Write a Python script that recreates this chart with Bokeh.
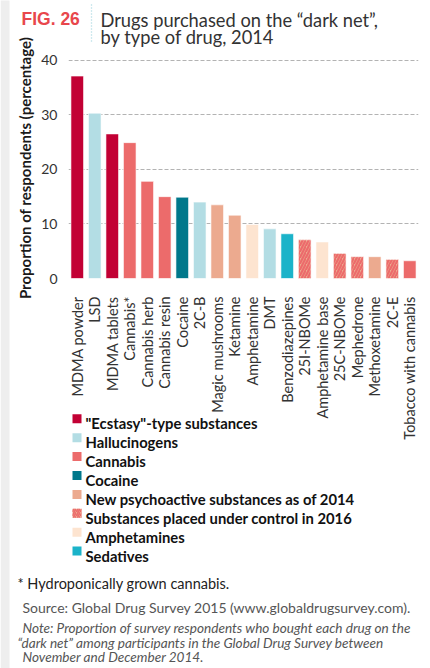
import math
from bokeh.plotting import figure
from bokeh.models import (FactorRange, Range1d, FixedTicker, ColumnDataSource,
                          GridBox)
from bokeh.embed import file_html
from bokeh.resources import INLINE
from bokeh.core.properties import value

# ---------------- data ----------------
drugs = ["MDMA powder", "LSD", "MDMA tablets", "Cannabis*", "Cannabis herb",
         "Cannabis resin", "Cocaine", "2C-B", "Magic mushrooms", "Ketamine",
         "Amphetamine", "DMT", "Benzodiazepines", "25I-NBOMe",
         "Amphetamine base", "25C-NBOMe", "Mephedrone", "Methoxetamine",
         "2C-E", "Tobacco with cannabis"]
percent = [37.1, 30.3, 26.5, 24.9, 17.8, 15.0, 14.9, 14.0, 13.5, 11.6,
           9.9, 9.1, 8.2, 7.1, 6.7, 4.6, 4.0, 4.0, 3.5, 3.25]
drug_type = ["ecstasy", "halluc", "ecstasy", "cannabis", "cannabis",
             "cannabis", "cocaine", "halluc", "nps", "nps",
             "amph", "halluc", "sedatives", "controlled", "amph",
             "controlled", "controlled", "nps", "controlled", "cannabis"]

type_keys = ["ecstasy", "halluc", "cannabis", "cocaine", "nps",
             "controlled", "amph", "sedatives"]
type_labels = ['"Ecstasy"-type substances', "Hallucinogens", "Cannabis",
               "Cocaine", "New psychoactive substances as of 2014",
               "Substances placed under control in 2016", "Amphetamines",
               "Sedatives"]
type_colors = ["#C20034", "#B3DDE4", "#EC6B6B", "#00788B", "#ECAA8F",
               "#ECAA8F", "#FDE4D0", "#1BB3C9"]
type_hatch = [None, None, None, None, None, "/", None, None]

y_ticks = [0, 10, 20, 30, 40]

title_fig = "FIG. 26"
title_lines = ["Drugs purchased on the \u201cdark net\u201d,",
               "by type of drug, 2014"]
y_label = "Proportion of respondents (percentage)"
footnote = "* Hydroponically grown cannabis."
source = "Source: Global Drug Survey 2015 (www.globaldrugsurvey.com)."
note_lines = ["Note: Proportion of survey respondents who bought each drug on the",
              "\u201cdark net\u201d among participants in the Global Drug Survey between",
              "November and December 2014."]

HATCH_COLOR = "#EC6B6B"

# ---------------- main chart ----------------
W, H = 430, 668
FR_L, FR_R, FR_T, FR_B = 68, 418, 57, 278
Y_END = 40.5

p = figure(width=W, height=H, output_backend="svg", toolbar_location=None,
           x_range=FactorRange(factors=drugs), y_range=Range1d(0, Y_END),
           min_border_left=FR_L, min_border_right=W - FR_R, min_border_top=FR_T,
           min_border_bottom=H - FR_B)
p.background_fill_color = "white"
p.border_fill_color = "white"
p.outline_line_color = None

for key, col, hatch in zip(type_keys, type_colors, type_hatch):
    xs = [d for d, t in zip(drugs, drug_type) if t == key]
    ys = [v for v, t in zip(percent, drug_type) if t == key]
    src = ColumnDataSource(dict(drug=xs, pct=ys))
    kw = {}
    if hatch:
        kw = dict(hatch_pattern=hatch, hatch_color=HATCH_COLOR, hatch_scale=6,
                  hatch_weight=2.2)
    p.vbar(x="drug", top="pct", width=0.72, source=src, fill_color=col,
           line_color="white", line_alpha=0.6, line_width=1, **kw)

p.yaxis.ticker = FixedTicker(ticks=y_ticks)
p.axis.axis_line_color = None
p.axis.major_tick_line_color = None
p.axis.minor_tick_line_color = None
p.axis.major_label_text_font = "Lato"
p.axis.major_label_text_color = "#333333"
p.yaxis.major_label_text_font_size = "14px"
p.xaxis.major_label_text_font_size = "14.5px"
p.yaxis.major_label_standoff = 5
p.xaxis.major_label_standoff = 12
p.xaxis.major_label_orientation = math.pi / 2
p.yaxis.axis_label = y_label
p.yaxis.axis_label_text_font = "Lato"
p.yaxis.axis_label_text_font_style = "bold"
p.yaxis.axis_label_text_font_size = "15px"
p.yaxis.axis_label_text_color = "#1a1a1a"
p.yaxis.axis_label_standoff = 4

p.xgrid.grid_line_color = None
p.ygrid.grid_line_color = "#B3B3B3"
p.ygrid.grid_line_dash = "4 2"
p.ygrid.grid_line_width = 1

# ---------------- overlay for title, legend and notes (page pixel units) ----------------
# the overlay canvas sits a few pixels lower in the page; its range compensates
SHIFT = 5
o = figure(width=W, height=H, output_backend="svg", toolbar_location=None,
           x_range=Range1d(0, W), y_range=Range1d(H + SHIFT, SHIFT), title=None,
           x_axis_type=None, y_axis_type=None, min_border=0)
o.background_fill_alpha = 0
o.border_fill_alpha = 0
o.outline_line_color = None
o.xgrid.visible = False
o.ygrid.visible = False

has_frame_align = "frame_align" in p.properties()
if has_frame_align:
    p.frame_align = False
    o.frame_align = False


def txt(x, y, text, size, color, font="Lato", style="normal"):
    o.text(x=[x], y=[y], text=[text], text_font=value(font),
           text_font_size=value(size), text_color=color,
           text_font_style=style, text_baseline="alphabetic", text_align="left")


# light page shadow at the left edge
o.quad(left=[0], right=[9], top=[0], bottom=[H + SHIFT], fill_color="#EEEEEE", line_color=None)

# title
txt(21, 23, title_fig, "17.5px", "#E8474C", font="Liberation Sans", style="bold")
o.line(x=[91, 91], y=[9, 48], line_color="#9FD3DE", line_width=1.3, line_dash="1 2")
txt(100, 24, title_lines[0], "18.3px", "#333333")
txt(100, 41, title_lines[1], "18.3px", "#333333")

# legend
LEG_X, LEG_Y0, LEG_DY, SW = 72, 423.3, 18.9, 9
for i, (lab, col, hatch) in enumerate(zip(type_labels, type_colors, type_hatch)):
    cy = LEG_Y0 + i * LEG_DY
    kw = {}
    if hatch:
        kw = dict(hatch_pattern=hatch, hatch_color=HATCH_COLOR, hatch_scale=4,
                  hatch_weight=1.6)
    o.quad(left=[LEG_X], right=[LEG_X + SW], top=[cy - SW / 2], bottom=[cy + SW / 2],
           fill_color=col, line_color=None, **kw)
    txt(LEG_X + SW + 4, cy + 4.5, lab, "14.8px", "#111111", style="bold")

# footnotes
txt(17, 587.5, footnote, "14.5px", "#222222")
txt(22, 612, source, "14px", "#555555")
txt(22, 632.5, note_lines[0], "13.6px", "#555555", style="italic")
txt(17, 647.5, note_lines[1], "13.6px", "#555555", style="italic")
txt(22, 661.5, note_lines[2], "13.6px", "#555555", style="italic")

if has_frame_align:
    layout = GridBox(children=[(p, 0, 0, 1, 1), (o, 0, 0, 1, 1)])
else:
    layout = GridBox(children=[(p, 1, 1, 1, 1), (o, 0, 0, 3, 3)])

open("out.html", "w").write(file_html(layout, INLINE))
